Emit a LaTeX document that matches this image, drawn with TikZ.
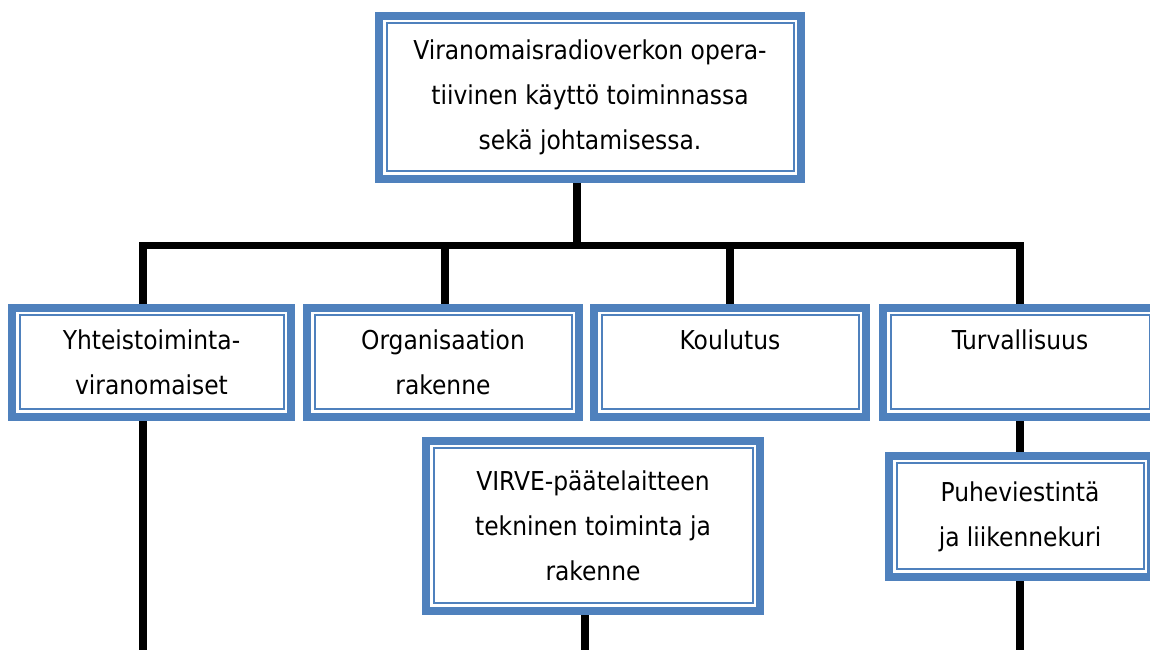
\documentclass[tikz,border=0pt]{standalone}
\usepackage{fontspec}
\setmainfont{DejaVu Sans Condensed}
\usetikzlibrary{backgrounds}
\definecolor{boxblue}{HTML}{4F81BD}
\newcommand{\bx}{\fontsize{26}{45}\selectfont}

\begin{document}
\begin{tikzpicture}[x=1pt,y=1pt,
  box/.style={draw=boxblue,line width=8pt,fill=white,align=center,font=\bx,inner sep=0pt,
    path picture={\draw[boxblue,line width=2pt]
      ([shift={(7.5pt,-7.5pt)}]path picture bounding box.north west) rectangle
      ([shift={(-7.5pt,7.5pt)}]path picture bounding box.south east);}},
  conn/.style={line width=7.5pt}]
   \useasboundingbox (0,0) rectangle (1150,650);
   \clip (0,0) rectangle (1150,650);
   \node[box,minimum width=422pt,minimum height=163pt] (viran) at (590,552.5)
    {Viranomaisradioverkon opera-\\tiivinen käyttö toiminnassa\\sekä johtamisessa.};
   \node[box,minimum width=279pt,minimum height=109pt] (yht) at (151.5,287.5)
    {Yhteistoiminta-\\viranomaiset};
   \node[box,minimum width=272pt,minimum height=109pt] (org) at (443,287.5)
    {Organisaation\\rakenne};
   \node[box,minimum width=272pt,minimum height=109pt] (kou) at (730,287.5)
    {Koulutus\\\mbox{}};
   \node[box,minimum width=274pt,minimum height=109pt] (tur) at (1020,287.5)
    {Turvallisuus\\\mbox{}};
   \node[box,minimum width=334pt,minimum height=170pt] (virve) at (593,124)
    {VIRVE-päätelaitteen\\tekninen toiminta ja\\rakenne};
   \node[box,minimum width=262pt,minimum height=121pt] (puhe) at (1020,133.5)
    {Puheviestintä\\ja liikennekuri};
   \coordinate (bar) at (577,404.5);
   \coordinate (floor) at (0,0);
   \begin{scope}[on background layer]
   \clip (0,0) rectangle (1150,650);
   \draw[conn] ([xshift=-13pt]viran.south) -- (bar);
   \draw[conn] ([xshift=-8.5pt]yht.north) |- (tur.north |- bar) -- (tur.north);
   \draw[conn] ([xshift=2pt]org.north) -- ([xshift=2pt]org.north |- bar);
   \draw[conn] (kou.north) -- (kou.north |- bar);
   \draw[conn] ([xshift=-8.5pt]yht.south) -- ([xshift=-8.5pt]yht.south |- floor);
   \draw[conn] (tur.south) -- (puhe.north);
   \draw[conn] ([xshift=-8pt]virve.south) -- ([xshift=-8pt]virve.south |- floor);
   \draw[conn] (puhe.south) -- (puhe.south |- floor);
   \end{scope}
\end{tikzpicture}
\end{document}
